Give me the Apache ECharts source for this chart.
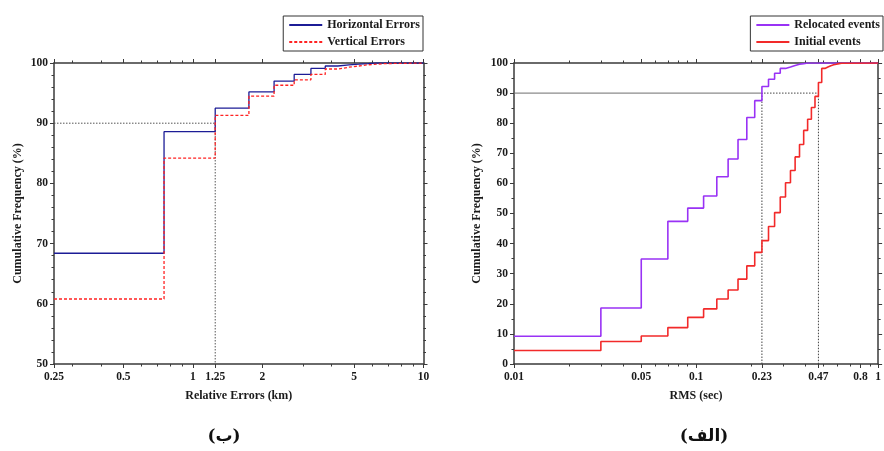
<!DOCTYPE html>
<html>
<head>
<meta charset="utf-8">
<title>Cumulative frequency of location errors and RMS</title>
<script src="https://cdn.jsdelivr.net/npm/echarts@6/dist/echarts.min.js"></script>
<style>
  html, body { margin: 0; padding: 0; background: #fff; }
  #chart { width: 884px; height: 451px; }
</style>
</head>
<body>
<div id="chart"></div>
<script>
// ---- Relative location errors (km): bin edges and cumulative frequency (%) ----
const errorEdges = [0.25, 0.75, 1.25, 1.75, 2.25, 2.75, 3.25, 3.75, 4.25, 4.75, 5.25, 5.75, 6.25, 6.75, 10];
const horizontalErrors = [68.4, 88.6, 92.5, 95.2, 97.0, 98.1, 99.1, 99.5, 99.7, 99.8, 99.9, 100, 100, 100, 100];
const verticalErrors = [60.8, 84.2, 91.3, 94.5, 96.3, 97.2, 98.1, 99.0, 99.3, 99.5, 99.7, 99.8, 99.9, 100, 100];

// ---- RMS residuals (sec): bin edges and cumulative frequency (%) ----
const rmsEdges = [0.01, 0.03, 0.05, 0.07, 0.09, 0.11, 0.13, 0.15, 0.17, 0.19, 0.21, 0.23, 0.25,
  0.27, 0.29, 0.31, 0.33, 0.35, 0.37, 0.39, 0.41, 0.43, 0.45, 0.47, 0.49, 0.51, 0.53, 0.55,
  0.57, 0.59, 0.61, 0.63, 1];
const relocatedEvents = [9.2, 18.6, 34.9, 47.4, 51.8, 55.8, 62.2, 68.1, 74.6, 81.9, 87.5, 92.2, 94.6,
  96.6, 98.2, 98.7, 99.2, 99.6, 99.8, 100, 100, 100, 100, 100, 100, 100, 100, 100,
  100, 100, 100, 100, 100];
const initialEvents = [4.5, 7.5, 9.3, 12.1, 15.5, 18.3, 21.6, 24.6, 28.2, 32.6, 37.1, 41.0, 45.7,
  50.3, 55.5, 60.2, 64.3, 68.8, 72.9, 77.6, 81.3, 85.2, 88.9, 93.5, 98.2, 98.7, 99.1, 99.4,
  99.6, 99.8, 99.9, 100, 100];

// ---- 90 % guide lines ----
const errorGuideX = [0.25, 1.25, 1.25];
const errorGuideY = [90, 90, 50];
const rmsGuideSolidX = [0.01, 0.23];
const rmsGuideSolidY = [90, 90];
const rmsGuideDotX = [0.23, 0.23, 0.47, 0.47];
const rmsGuideDotY = [0, 90, 90, 0];

// ---- Axis tick labels ----
const errorTicks = [0.25, 0.5, 1, 1.25, 2, 5, 10];
const errorMinorTicks = [0.3, 0.4, 0.6, 0.7, 0.8, 0.9, 3, 4, 6, 7, 8, 9];
const rmsTicks = [0.01, 0.05, 0.1, 0.23, 0.47, 0.8, 1];
const rmsMinorTicks = [0.02, 0.03, 0.04, 0.06, 0.07, 0.08, 0.09, 0.2, 0.3, 0.4, 0.5, 0.6, 0.7, 0.9];

const pairs = (xs, ys) => xs.map((x, i) => [x, ys[i]]);

const FONT = '"Liberation Serif", "Times New Roman", serif';
const AXIS_COLOR = '#3a3a3a';
const labelStyle = { fontFamily: FONT, fontWeight: 'bold', fontSize: 11.5, color: '#1a1a1a' };

function xAxes(gridIndex, min, max, ticks, minor, name, nameGap) {
  const base = {
    type: 'log', gridIndex, min, max, logBase: 10,
    splitLine: { show: false }, minorTick: { show: false }
  };
  return [
    Object.assign({}, base, {
      position: 'bottom', name, nameLocation: 'middle', nameGap,
      nameTextStyle: { fontFamily: FONT, fontWeight: 'bold', fontSize: 12, color: '#1a1a1a' },
      axisLine: { show: true, onZero: false, lineStyle: { color: AXIS_COLOR, width: 1.5 } },
      axisTick: { show: true, length: 4, customValues: ticks, lineStyle: { color: AXIS_COLOR } },
      axisLabel: Object.assign({ show: true, margin: 7, customValues: ticks,
        formatter: v => String(+v.toPrecision(6)) }, labelStyle)
    }),
    Object.assign({}, base, {
      position: 'bottom',
      axisLine: { show: false, onZero: false },
      axisTick: { show: true, length: 2.5, customValues: minor, lineStyle: { color: AXIS_COLOR } },
      axisLabel: { show: false }
    }),
    Object.assign({}, base, {
      position: 'top',
      axisLine: { show: true, onZero: false, lineStyle: { color: AXIS_COLOR, width: 1.5 } },
      axisTick: { show: true, length: 4, customValues: ticks, lineStyle: { color: AXIS_COLOR } },
      axisLabel: { show: false }
    }),
    Object.assign({}, base, {
      position: 'top',
      axisLine: { show: false, onZero: false },
      axisTick: { show: true, length: 2.5, customValues: minor, lineStyle: { color: AXIS_COLOR } },
      axisLabel: { show: false }
    })
  ];
}

function yAxes(gridIndex, min, minorSplit, nameGap) {
  const base = {
    type: 'value', gridIndex, min, max: 100, interval: 10,
    splitLine: { show: false },
    axisLine: { show: true, onZero: false, lineStyle: { color: AXIS_COLOR, width: 1.5 } },
    axisTick: { show: true, length: 4, lineStyle: { color: AXIS_COLOR } },
    minorTick: { show: true, splitNumber: minorSplit, length: 2.5, lineStyle: { color: AXIS_COLOR } }
  };
  return [
    Object.assign({}, base, {
      position: 'left', name: 'Cumulative Frequency (%)', nameLocation: 'middle', nameGap,
      nameTextStyle: { fontFamily: FONT, fontWeight: 'bold', fontSize: 12, color: '#1a1a1a' },
      axisLabel: Object.assign({ margin: 6 }, labelStyle)
    }),
    Object.assign({}, base, { position: 'right', axisLabel: { show: false } })
  ];
}

function stepSeries(name, xIndex, yIndex, xs, ys, color, type, width) {
  return {
    name, type: 'line', xAxisIndex: xIndex, yAxisIndex: yIndex,
    data: pairs(xs, ys), step: 'end', symbol: 'none', z: 3,
    lineStyle: { color, width, type }, itemStyle: { color }
  };
}

function guideSeries(xIndex, yIndex, xs, ys, color, type) {
  return {
    type: 'line', xAxisIndex: xIndex, yAxisIndex: yIndex, data: pairs(xs, ys),
    symbol: 'none', silent: true, z: 2,
    lineStyle: { color, width: 1, type: type === 'dotted' ? [1.5, 1.5] : type }
  };
}

// Legend keys show only the line sample, no marker
const legendCommon = {
  orient: 'vertical', itemWidth: 33, itemHeight: 10, itemGap: 5,
  borderColor: '#333', borderWidth: 1, borderRadius: 0,
  padding: [3, 3, 3, 5], backgroundColor: '#fff',
  itemStyle: { opacity: 0 },
  textStyle: { fontFamily: FONT, fontWeight: 'bold', fontSize: 12, color: '#1a1a1a' }
};

const chart = echarts.init(document.getElementById('chart'), null, { renderer: 'canvas' });
chart.setOption({
  backgroundColor: '#fff',
  animation: false,
  grid: [
    { left: 54, top: 63, width: 369.5, height: 301 },
    { left: 514, top: 63, width: 369, height: 301 }
  ],
  legend: [
    Object.assign({}, legendCommon, { right: 461, top: 16, data: ['Horizontal Errors', 'Vertical Errors'] }),
    Object.assign({}, legendCommon, { right: 1, top: 16, data: ['Relocated events', 'Initial events'] })
  ],
  xAxis: [
    ...xAxes(0, 0.25, 10, errorTicks, errorMinorTicks, 'Relative Errors (km)', 26),
    ...xAxes(1, 0.01, 1, rmsTicks, rmsMinorTicks, 'RMS (sec)', 26)
  ],
  yAxis: [
    ...yAxes(0, 50, 5, 30),
    ...yAxes(1, 0, 2, 31)
  ],
  series: [
    guideSeries(0, 0, errorGuideX, errorGuideY, '#555', 'dotted'),
    stepSeries('Horizontal Errors', 0, 0, errorEdges, horizontalErrors, '#1c1c96', 'solid', 1.3),
    stepSeries('Vertical Errors', 0, 0, errorEdges, verticalErrors, '#ff2222', [3, 2], 1.3),
    guideSeries(4, 2, rmsGuideSolidX, rmsGuideSolidY, '#6e6e6e', 'solid'),
    guideSeries(4, 2, rmsGuideDotX, rmsGuideDotY, '#444', 'dotted'),
    stepSeries('Relocated events', 4, 2, rmsEdges, relocatedEvents, '#9932f5', 'solid', 1.6),
    stepSeries('Initial events', 4, 2, rmsEdges, initialEvents, '#f22a2a', 'solid', 1.6)
  ],
  graphic: [
    { type: 'text', x: 224, y: 437,
      style: { text: '(ب)', align: 'center', verticalAlign: 'middle',
        font: 'bold 17px "DejaVu Serif", "DejaVu Sans", serif', fill: '#111' } },
    { type: 'text', x: 704, y: 437,
      style: { text: '(الف)', align: 'center', verticalAlign: 'middle',
        font: 'bold 17px "DejaVu Serif", "DejaVu Sans", serif', fill: '#111' } }
  ]
});
</script>
</body>
</html>
